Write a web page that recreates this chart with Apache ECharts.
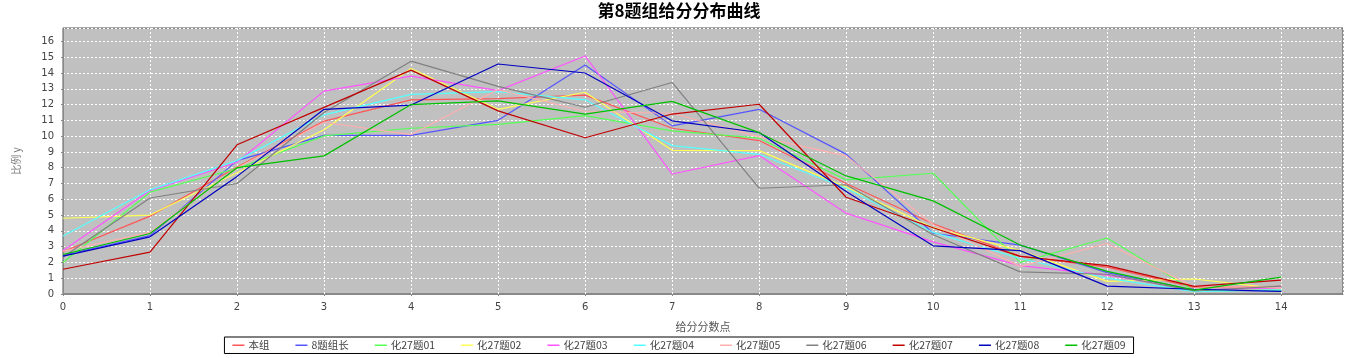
<!DOCTYPE html>
<html>
<head>
<meta charset="utf-8">
<script src="https://cdn.jsdelivr.net/npm/echarts@6/dist/echarts.min.js"></script>
<style>html,body{margin:0;padding:0;background:#fff}#c{width:1358px;height:358px}</style>
</head>
<body>
<div id="c"></div>
<script>
const xPoints = [0,1,2,3,4,5,6,7,8,9,10,11,12,13,14];
const seriesNames = ['本组','8题组长','化27题01','化27题02','化27题03','化27题04','化27题05','化27题06','化27题07','化27题08','化27题09'];
const s_bz  = [2.68,4.93,8.05,10.95,12.3,12.38,12.6,10.5,9.72,7.0,4.45,2.4,1.7,0.42,0.48];
const s_zz  = [2.45,3.7,8.45,10.05,10.05,11.0,14.5,10.65,11.7,8.86,3.85,3.1,1.35,0.25,0.2];
const s_01  = [2.0,6.45,7.95,10.02,10.5,10.75,11.3,10.33,9.87,7.23,7.65,2.0,3.55,0.2,0.25];
const s_02  = [4.8,5.0,7.68,10.4,14.28,11.7,12.78,9.1,9.08,6.77,4.2,2.75,0.8,0.95,0.33];
const s_03  = [2.75,6.55,8.35,12.85,13.8,12.88,15.08,7.6,8.77,5.12,3.3,1.8,1.2,0.27,0.38];
const s_04  = [3.68,6.6,8.45,11.35,12.65,12.82,12.3,9.4,8.85,6.7,3.9,2.25,1.0,0.15,0.27];
const s_05  = [2.72,3.9,8.0,10.88,10.1,12.95,11.56,11.45,9.95,8.75,4.4,1.75,3.2,0.45,0.45];
const s_06  = [2.35,6.08,7.0,11.5,14.75,13.15,11.83,13.4,6.7,6.92,3.75,1.4,1.25,0.2,0.5];
const s_07  = [1.57,2.65,9.45,11.82,14.18,11.6,9.9,11.4,12.02,6.13,4.2,2.38,1.8,0.48,0.88];
const s_08  = [2.4,3.62,7.45,11.7,11.97,14.57,14.0,10.97,10.23,6.5,3.05,2.75,0.5,0.3,0.17];
const s_09  = [2.5,3.83,8.0,8.75,12.0,12.23,11.4,12.2,10.22,7.48,5.9,3.1,1.43,0.25,1.07];
const allValues = [s_bz,s_zz,s_01,s_02,s_03,s_04,s_05,s_06,s_07,s_08,s_09];
const colors = ['#FF5555','#5555FF','#55FF55','#FFFF55','#FF55FF','#55FFFF','#FFAFAF','#808080','#C00000','#0000C0','#00C000'];

const chart = echarts.init(document.getElementById('c'));
const fontTick = 'DejaVu Sans';
chart.setOption({
  animation: false,
  backgroundColor: '#ffffff',
  color: colors,
  title: {
    text: '第8题组给分分布曲线',
    left: 'center', top: -3,
    textStyle: {fontFamily: 'Noto Sans CJK SC', fontWeight: 'bold', fontSize: 17, color: '#000'}
  },
  legend: {
    data: seriesNames.map(n => ({name: n, icon: 'rect'})),
    left: 'center', top: 337,
    itemWidth: 12, itemHeight: 1.5, itemGap: 26,
    borderColor: '#000', borderWidth: 1, padding: [3, 8],
    textStyle: {fontFamily: 'Noto Sans CJK SC', fontSize: 10.5, color: '#444', padding: [0,0,0,-1]}
  },
  grid: {
    left: 63, right: 15, top: 28, bottom: 64,
    show: true, backgroundColor: '#C0C0C0', borderColor: '#555', borderWidth: 1
  },
  xAxis: {
    type: 'value', min: 0, max: 14.71, interval: 1,
    offset: 5,
    name: '给分分数点', nameLocation: 'middle', nameGap: 22,
    nameTextStyle: {fontFamily: 'Noto Sans CJK SC', fontSize: 11, color: '#555'},
    axisLine: {show: true, lineStyle: {color: '#888', width: 1}},
    axisTick: {show: true, length: 2, lineStyle: {color: '#888'}},
    axisLabel: {showMaxLabel: false, margin: 3, fontFamily: fontTick, fontSize: 10, color: '#444',
      formatter: v => Number.isInteger(v) ? String(v) : ''},
    splitLine: {show: true, lineStyle: {color: '#ffffff', type: [2, 2], width: 1}}
  },
  yAxis: {
    type: 'value', min: 0, max: 16.85, interval: 1,
    offset: 4,
    name: '比例 y', nameLocation: 'middle', nameGap: 38,
    nameTextStyle: {fontFamily: 'Noto Sans CJK SC', fontSize: 10, color: '#777'},
    axisLine: {show: true, lineStyle: {color: '#888', width: 1}},
    axisTick: {show: true, length: 2, lineStyle: {color: '#888'}},
    axisLabel: {showMaxLabel: false, margin: 5, fontFamily: fontTick, fontSize: 10, color: '#444',
      formatter: v => Number.isInteger(v) ? String(v) : ''},
    splitLine: {show: true, lineStyle: {color: '#ffffff', type: [2, 2], width: 1}}
  },
  series: seriesNames.map((n, i) => ({
    name: n, type: 'line', symbol: 'none',
    lineStyle: {width: 1.2, color: colors[i]},
    itemStyle: {color: colors[i]},
    data: xPoints.map((x, j) => [x, allValues[i][j]])
  }))
});
</script>
</body>
</html>
